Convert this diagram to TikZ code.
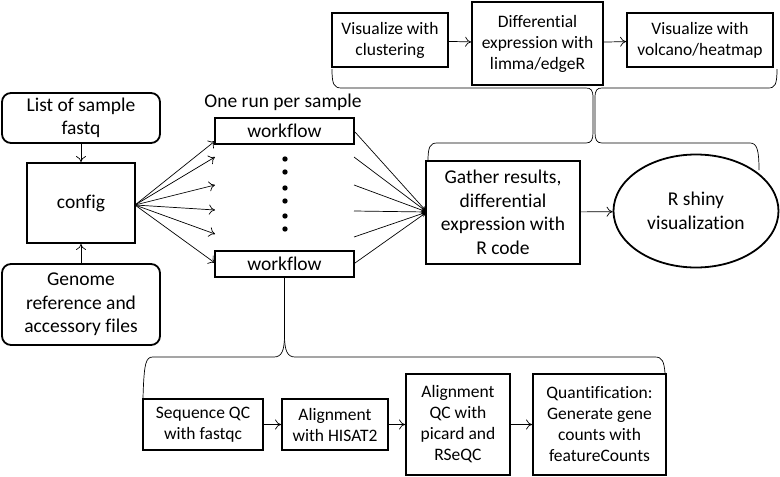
\documentclass[tikz,border=0pt]{standalone}
\usepackage{fontspec}
\setmainfont{Carlito}[Ligatures=NoCommon]
\usetikzlibrary{shapes.geometric,arrows.meta}
\begin{document}
\begin{tikzpicture}[x=1pt,y=-1pt,
 txt/.style={font=\fontsize{19.5}{23.5}\selectfont},
 stxt/.style={font=\fontsize{17.5}{21}\selectfont},
 box/.style={draw,line width=1.8pt,inner sep=0pt,align=center,txt},
 sbox/.style={box,stxt},
 rbox/.style={box,rounded corners=9pt},
 conn/.style={line width=0.7pt,-{To[length=6pt,width=10pt]}},
 fan/.style={line width=0.7pt,-{Stealth[length=6pt,width=4pt]}},
 brace/.style={line width=0.7pt},
 dot/.style={circle,fill,inner sep=0pt,minimum size=5.4pt},
]
\useasboundingbox (0,0) rectangle (780,477);

% left column
\node[rbox,minimum width=158pt,minimum height=50pt] (list) at (81,118) {List of sample\\fastq};
\node[box,minimum width=108pt,minimum height=80pt] (config) at (81,203) {config};
\node[rbox,minimum width=158pt,minimum height=81pt] (genome) at (81,304.5) {Genome\\reference and\\accessory files};
\draw[conn] (list) -- (config);
\draw[conn] (genome) -- (config);

% workflows
\node[txt] (runlabel) at (283,102) {One run per sample};
\node[box,minimum width=139pt,minimum height=26pt] (wf1) at (284.5,131) {workflow};
\node[box,minimum width=139pt,minimum height=26pt] (wf2) at (284.5,264) {workflow};
\foreach \i/\y in {1/159,2/172,3/188,4/201,5/216,6/229} \node[dot] (d\i) at (285,\y) {};

\coordinate (cfgout) at (135,205);
\foreach \i/\y in {1/141,2/157,3/185,4/210,5/234,6/263} {
  \coordinate (in\i) at (215,\y);
  \draw[conn] (cfgout) -- (in\i);
}

% gather and shiny
\node[box,minimum width=154pt,minimum height=103pt] (gather) at (503,212.5) {Gather results,\\differential\\expression with\\R code};
\node[box,ellipse,minimum width=165pt,minimum height=113pt] (shiny) at (696,211) {R shiny\\visualization};
\draw[conn] (gather) -- (shiny);

\coordinate (gin) at (427,212);
\foreach \i/\x/\y in {1/355/132,2/354/157,3/354/185,4/354/211,5/354/237,6/355/263} {
  \coordinate (out\i) at (\x,\y);
  \draw[fan] (out\i) -- (gin);
}

% top row
\node[sbox,minimum width=116pt,minimum height=54pt] (clust) at (390,40) {Visualize with\\clustering};
\node[sbox,minimum width=131pt,minimum height=83pt] (diff) at (537.5,43.5) {Differential\\expression with\\limma/edgeR};
\node[sbox,minimum width=146pt,minimum height=54pt] (volc) at (700,40) {Visualize with\\volcano/heatmap};
\draw[conn] (clust) -- (diff);
\draw[conn] (diff) -- (volc);

% top braces
\draw[brace] (332,69) .. controls (332,85) and (334,88) .. (342,88) -- (586,88) .. controls (591,88) and (593,90) .. (593,98) -- (593,133) .. controls (593,140) and (591,143) .. (586,143) -- (437,143) .. controls (430,143) and (428,147) .. (428,161);
\draw[brace] (777,69) .. controls (777,85) and (775,88) .. (768,88) -- (602,88) .. controls (597,88) and (595,90) .. (595,98) -- (595,133) .. controls (595,140) and (597,143) .. (602,143) -- (750,143) .. controls (757,143) and (759,150) .. (759,170);

% bottom row
\node[sbox,minimum width=120pt,minimum height=51pt] (seqqc) at (203,424.5) {Sequence QC\\with fastqc};
\node[sbox,minimum width=106pt,minimum height=51pt] (hisat) at (335,424.5) {Alignment\\with HISAT2};
\node[sbox,minimum width=104pt,minimum height=101pt] (alnqc) at (458,424.5) {Alignment\\QC with\\picard and\\RSeQC};
\node[sbox,minimum width=133pt,minimum height=101pt] (quant) at (599.5,424.5) {Quantification:\\Generate gene\\counts with\\featureCounts};
\draw[conn] (seqqc) -- (hisat);
\draw[conn] (hisat) -- (alnqc);
\draw[conn] (alnqc) -- (quant);

% bottom brace
\draw[brace] (wf2.south) -- (284.5,335) .. controls (284.5,350) and (282,357) .. (274,357) -- (153,357) .. controls (146,357) and (144,362) .. (143,398);
\draw[brace] (284.5,335) .. controls (284.5,350) and (287,357) .. (295,357) -- (655,357) .. controls (662,357) and (664,361) .. (665,373);
\end{tikzpicture}
\end{document}
